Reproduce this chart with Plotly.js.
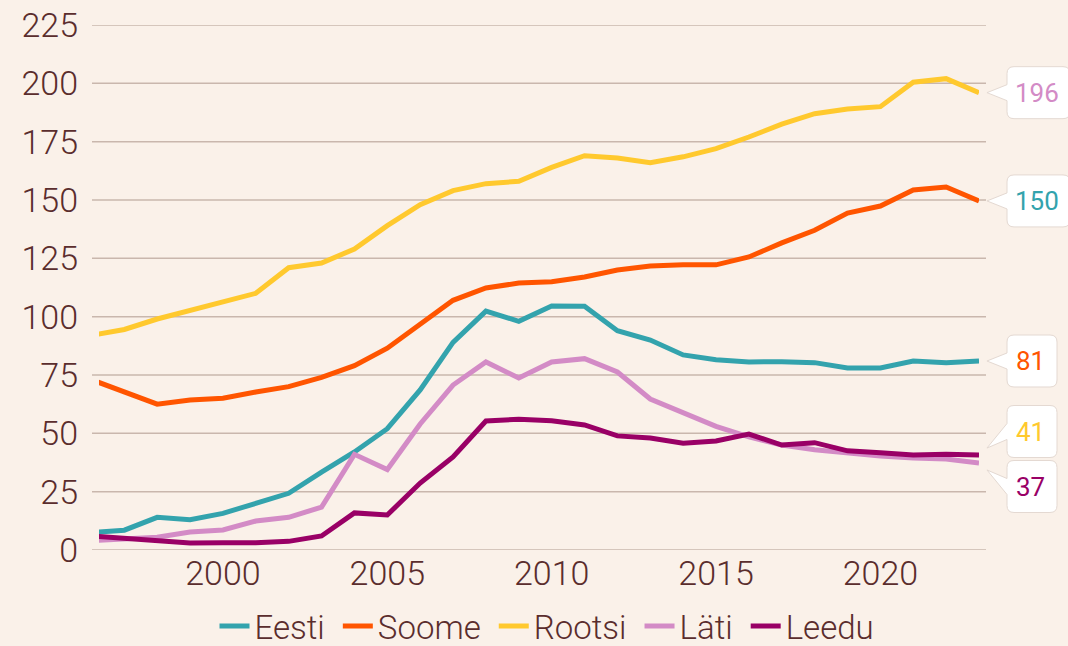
<!DOCTYPE html>
<html>
<head>
<meta charset="utf-8">
<script src="https://cdn.plot.ly/plotly-3.0.1.min.js"></script>
<style>
html,body{margin:0;padding:0;background:#faf1e9;}
#chart{width:1068px;height:646px;}
</style>
</head>
<body>
<div id="chart"></div>
<script>
// ---- data ----
const years = [1996,1997,1998,1999,2000,2001,2002,2003,2004,2005,2006,2007,2008,2009,2010,2011,2012,2013,2014,2015,2016,2017,2018,2019,2020,2021,2022,2023];
const seriesNames = ["Eesti","Soome","Rootsi","Läti","Leedu"];
const eesti  = [7.5,8.5,14,13,15.7,20,24.3,33.4,42,52,68.6,89,102.4,98,104.6,104.5,94,90,83.6,81.5,80.6,80.7,80.3,78,78,81,80.3,81];
const soome  = [73,68,62.5,64.3,65,67.7,70,74,79,86.5,97,107,112.3,114.4,115,117,120,121.7,122.3,122.2,125.6,131.6,137,144.4,147.4,154.3,155.6,149.6];
const rootsi = [92,94.5,99,102.5,106,110,121,123,129,139,148,154,157,158,164,169,168,166,168.5,172,177,182.5,187,189,190,200.5,202,196];
const lati   = [4,4.5,5.5,7.7,8.6,12.4,14,18.4,41,34.5,54,70.7,80.6,73.7,80.6,82,76.3,64.7,58.7,53,48.5,45,43,41.5,40.3,39.4,39,37.3];
const leedu  = [6,5.1,4.3,3,3.1,3.1,3.7,6,15.9,15,28.7,39.9,55.3,56,55.4,53.6,48.9,48,45.8,46.7,49.7,45,46,42.5,41.7,40.7,41,40.7];
const yTicks = [0,25,50,75,100,125,150,175,200,225];
const xTicks = [2000,2005,2010,2015,2020];

// ---- styles ----
const lineColors  = ["#33a3ad","#ff5500","#ffc92e","#d38bc6","#990066"];
const labelColors = ["#ff5500","#33a3ad","#d38bc6","#990066","#ffc92e"];
const textColor = "#5a2d2d";
const bg = "#faf1e9";
const gridColor = "#c9b7ad";

const allSeries = [eesti, soome, rootsi, lati, leedu];

const W = 1068, H = 646;
const M = {l:99, r:89, t:25, b:96};
const PW = W - M.l - M.r, PH = H - M.t - M.b;
const X0 = 1996.23, X1 = 2023, Y0 = 0, Y1 = 225;

const traces = allSeries.map((s, i) => ({
  type: "scatter", mode: "lines", name: seriesNames[i] + "\u00a0",
  x: years, y: s,
  line: {color: lineColors[i], width: 5, shape: "linear"},
  hoverinfo: "skip"
}));

// pixel helpers
const vy = v => M.t + PH * (1 - (v - Y0) / (Y1 - Y0));
const px2paperX = p => (p - M.l) / PW;
const py2paperY = p => (M.t + PH - p) / PH;

const shapes = [];
// grid lines (extend slightly beyond plot area)
yTicks.forEach(t => {
  shapes.push({type: "line", xref: "paper", yref: "y", x0: -7/PW, x1: 1 + 7/PW, y0: t, y1: t,
    line: {color: gridColor, width: 1.5}, layer: "below"});
});

// end labels with callout bubbles
const labels = allSeries.map((s, i) => {
  const v = s[s.length - 1];
  return {i, v, py: vy(v), cy: vy(v), text: String(Math.round(v))};
}).sort((a, b) => a.py - b.py);
const minGap = 55;
for (let k = 0; k < labels.length - 1; k++) {
  const a = labels[k], b = labels[k + 1];
  if (b.cy - a.cy < minGap) {
    const mid = (a.cy + b.cy) / 2;
    a.cy = mid - minGap / 2; b.cy = mid + minGap / 2;
  }
}
const annotations = [];
const tipX = 987, boxL = 1007, boxH = 52, rad = 7;
labels.forEach(L => {
  const w = 24 + 13 * L.text.length;
  const l = boxL, r = boxL + w, t = L.cy - boxH / 2, b = L.cy + boxH / 2;
  const tipY = L.py + Math.max(-7, Math.min(7, L.cy - L.py));
  const bt = L.cy - 8, bb = L.cy + 8;
  const P = (x, y) => px2paperX(x).toFixed(5) + "," + py2paperY(y).toFixed(5);
  const path = "M" + P(l + rad, t) + " L" + P(r - rad, t) + " Q" + P(r, t) + " " + P(r, t + rad) +
    " L" + P(r, b - rad) + " Q" + P(r, b) + " " + P(r - rad, b) +
    " L" + P(l + rad, b) + " Q" + P(l, b) + " " + P(l, b - rad) +
    " L" + P(l, bb) + " L" + P(tipX, tipY) + " L" + P(l, bt) +
    " L" + P(l, t + rad) + " Q" + P(l, t) + " " + P(l + rad, t) + " Z";
  shapes.push({type: "path", xref: "paper", yref: "paper", path: path,
    fillcolor: "#ffffff", line: {color: "#e4d9d2", width: 1}, layer: "above"});
  annotations.push({xref: "paper", yref: "paper", x: px2paperX(l + w / 2 - 2), y: py2paperY(L.cy),
    xanchor: "center", yanchor: "middle", showarrow: false, text: L.text,
    font: {family: "Roboto", size: 26, color: labelColors[L.i], weight: 400}});
});

const layout = {
  width: W, height: H,
  margin: Object.assign({}, M, {autoexpand: false}),
  paper_bgcolor: bg, plot_bgcolor: bg,
  font: {family: "Roboto", color: textColor, weight: 300},
  showlegend: true,
  legend: {orientation: "h", x: (551 - M.l) / PW, xanchor: "center",
    yref: "paper", y: py2paperY(598), yanchor: "top",
    font: {family: "Roboto", size: 33, color: textColor, weight: 300},
    bgcolor: "rgba(0,0,0,0)", itemwidth: 30, tracegroupgap: 0},
  xaxis: {range: [X0, X1], tickvals: xTicks, ticktext: xTicks.map(String), automargin: false,
    showgrid: false, zeroline: false, showline: false, ticks: "",
    tickfont: {family: "Roboto", size: 34, color: textColor, weight: 300}, fixedrange: true},
  yaxis: {range: [Y0, Y1], tickvals: yTicks, ticktext: yTicks.map(String), automargin: false,
    showgrid: false, zeroline: false, showline: false, ticks: "", ticklabelstandoff: 20,
    tickfont: {family: "Roboto", size: 34, color: textColor, weight: 300}, fixedrange: true},
  shapes: shapes,
  annotations: annotations,
  hovermode: false
};

Plotly.newPlot("chart", traces, layout, {displayModeBar: false, staticPlot: true});
</script>
</body>
</html>
